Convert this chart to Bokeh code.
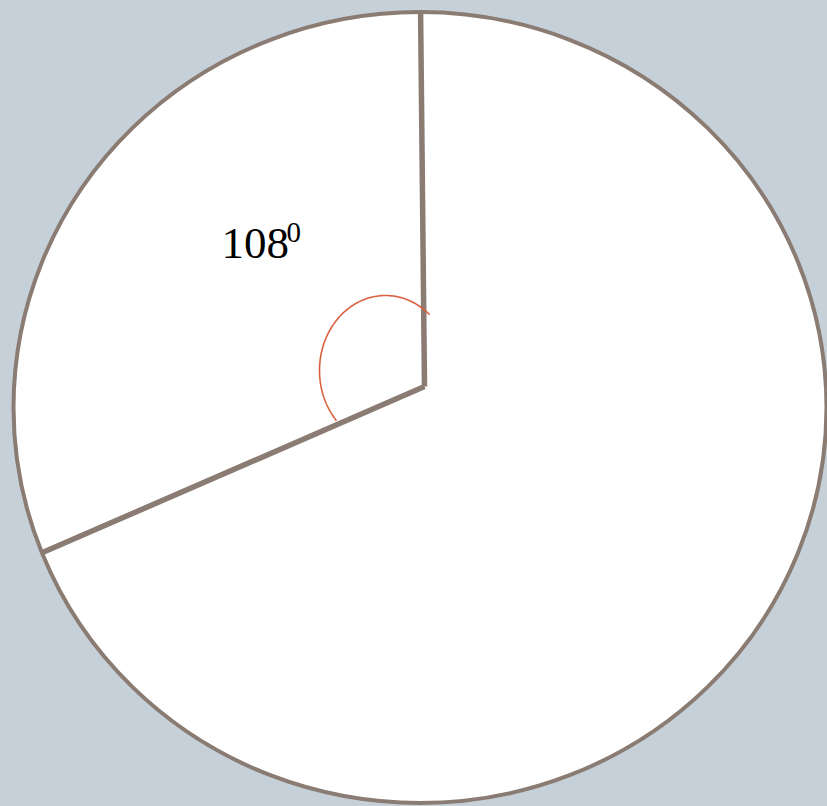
import numpy as np
from bokeh.plotting import figure
from bokeh.models import Range1d
from bokeh.core.properties import value
from bokeh.embed import file_html
from bokeh.resources import INLINE

# ---- data ----
angle_value = [108]                 # labelled angle (degrees)
angle_label = ["108"]
angle_sup = ["0"]
ray_directions = [90.6, 203.5]      # directions of the two radii (deg, y up)

W, H = 827, 806
BG = "#c5d0d8"
EDGE = "#8a7c73"
ARC = "#d9603f"

# geometry of the drawing (pixel space)
cx, cy, rx, ry = 419.5, 407.0, 406.5, 395.5   # outer circle (slightly elliptic)
vx, vy = 424.0, 386.0                          # vertex of the angle
acx, acy, arx, ary = 385.0, 370.0, 66.0, 75.0  # angle marker arc
arc_from, arc_to = 48.0, 222.0

p = figure(width=W, height=H, output_backend="svg", toolbar_location=None,
           x_range=Range1d(0, W), y_range=Range1d(H, 0),
           min_border=0, outline_line_color=None,
           background_fill_color=BG, border_fill_color=BG)
p.axis.visible = False
p.grid.visible = False

# disk
p.ellipse(x=[cx], y=[cy], width=[2 * rx], height=[2 * ry],
          fill_color="white", line_color=EDGE, line_width=4)

# radii: intersect rays from the vertex with the ellipse
xs, ys = [], []
for d in ray_directions:
    t = np.radians(d)
    dx, dy = np.cos(t), -np.sin(t)
    a = (dx / rx) ** 2 + (dy / ry) ** 2
    b = 2 * ((vx - cx) * dx / rx ** 2 + (vy - cy) * dy / ry ** 2)
    c = ((vx - cx) / rx) ** 2 + ((vy - cy) / ry) ** 2 - 1
    s = (-b + np.sqrt(b * b - 4 * a * c)) / (2 * a)
    xs.append([vx, vx + s * dx])
    ys.append([vy, vy + s * dy])
p.multi_line(xs=xs, ys=ys, line_color=EDGE, line_width=5.5, line_cap="butt")

# angle marker
tt = np.radians(np.linspace(arc_from, arc_to, 120))
p.line(acx + arx * np.cos(tt), acy - ary * np.sin(tt), line_color=ARC, line_width=1.6)

# label
p.text(x=[221], y=[243], text=angle_label, text_font=value("Liberation Serif"),
       text_font_size="45px", text_color="black", text_align="left",
       text_baseline="alphabetic")
p.text(x=[286], y=[232], text=angle_sup, text_font=value("Liberation Serif"),
       text_font_size="29px", text_color="black", text_align="left",
       text_baseline="alphabetic")

html = file_html(p, INLINE)
html = html.replace("</head>",
                    "<style>html,body{margin:0;padding:0;overflow:hidden;background:%s}</style></head>" % BG, 1)
open("out.html", "w").write(html)
